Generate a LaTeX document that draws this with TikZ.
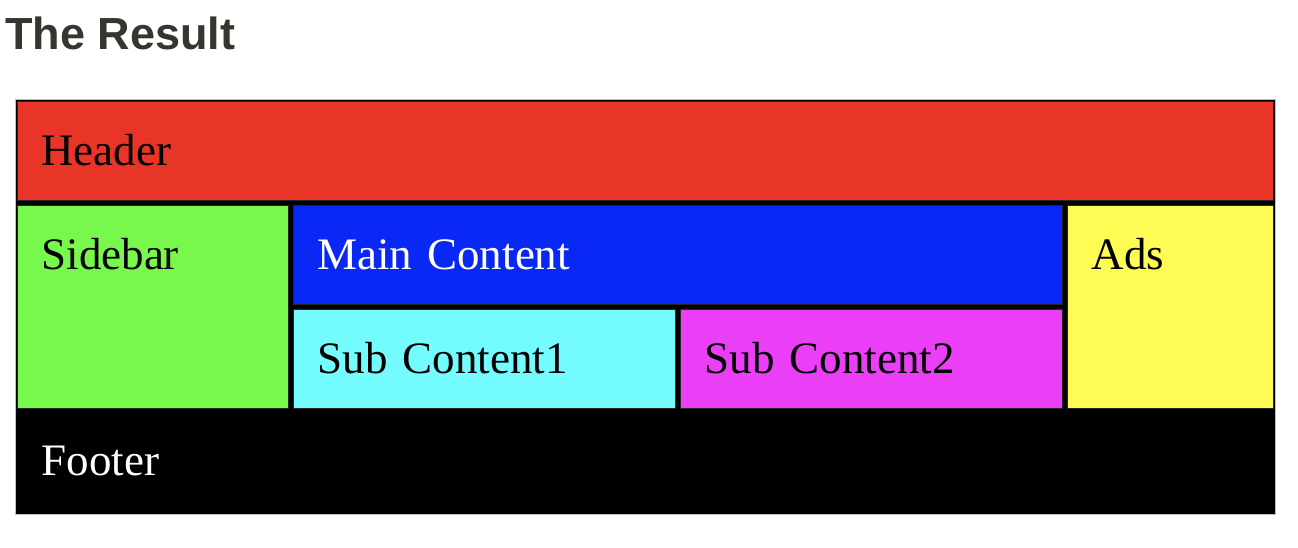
\documentclass[tikz,border=0pt]{standalone}
\usepackage{fontspec}
\setmainfont{Liberation Serif}
\newfontfamily\titlefont{Liberation Sans}
\usepackage{tikz}

\definecolor{hdrred}{HTML}{E83528}
\definecolor{sidegreen}{HTML}{78F84C}
\definecolor{mainblue}{HTML}{0A28F5}
\definecolor{subcyan}{HTML}{73FBFD}
\definecolor{submagenta}{HTML}{EA3FF7}
\definecolor{adsyellow}{HTML}{FFFB55}
\definecolor{titlegray}{HTML}{36362F}

\begin{document}
\begin{tikzpicture}[x=1pt,y=-1pt,
    box/.style={draw=black!85,line width=1pt,anchor=north west,inner xsep=24pt,inner ysep=0pt,
      text height=64pt,align=left,font=\fontsize{45}{54}\selectfont}]
  \useasboundingbox (0,0) rectangle (1298,548);

  \node[anchor=base west,inner sep=0pt,text=titlegray,font=\titlefont\bfseries\fontsize{45}{54}\selectfont] (title) at (5,50) {The Result};

  % black frame behind the grid
  \node[anchor=north west,fill=black,draw=black!25,line width=1pt,inner sep=0pt,minimum width=1260pt,minimum height=415pt] (frame) at (15,99) {};

  \node[box,fill=hdrred,text width=1208pt,text depth=35pt] (header) at (17,101) {Header};
  \node[box,fill=sidegreen,text width=223pt,text depth=139pt] (sidebar) at (17,205) {Sidebar};
  \node[box,fill=mainblue,text=white,text width=721pt,text depth=35pt] (main) at (293,205) {Main Content};
  \node[box,fill=subcyan,text width=334pt,text depth=35pt] (sub1) at (293,309) {Sub Content1};
  \node[box,fill=submagenta,text width=334pt,text depth=35pt] (sub2) at (680,309) {Sub Content2};
  \node[box,fill=adsyellow,text width=158pt,text depth=139pt] (ads) at (1067,205) {Ads};
  \node[box,draw=none,fill=black,text=white,text width=1208pt,text depth=37pt] (footer) at (17,411) {Footer};
\end{tikzpicture}
\end{document}
